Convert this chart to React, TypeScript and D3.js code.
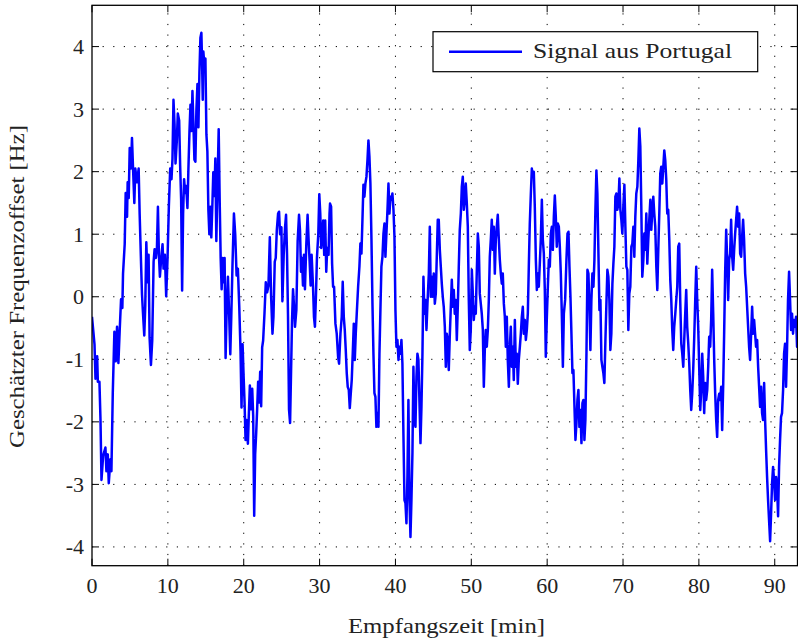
import React from 'react';
import * as d3 from 'd3';

const xTicks = [0, 10, 20, 30, 40, 50, 60, 70, 80, 90];
const yTicks = [-4, -3, -2, -1, 0, 1, 2, 3, 4];
const xDomain: [number, number] = [0, 93];
const yDomain: [number, number] = [-4.3, 4.66];
const seriesName = 'Signal aus Portugal';
const xLabel = 'Empfangszeit [min]';
const yLabel = 'Geschätzter Frequenzoffset [Hz]';

// [time in min, estimated frequency offset in Hz]
const signalPart1: [number, number][] = [
  [0, -0.32], [0.33, -0.76], [0.46, -1.31], [0.68, -0.95], [0.77, -1.36], [0.98, -1.36], [1.12, -1.97], [1.25, -2.93],
  [1.47, -2.54], [1.77, -2.41], [1.9, -2.79], [2.08, -2.52], [2.21, -2.98], [2.43, -2.6], [2.56, -2.79], [2.74, -1.53],
  [2.95, -0.56], [3.13, -1.03], [3.3, -0.48], [3.48, -1.06], [3.65, -0.54], [3.83, -0.04], [4.0, -0.18], [4.09, 0.37],
  [4.31, 0.84], [4.44, 1.66], [4.62, 1.28], [4.7, 1.83], [4.84, 1.58], [4.97, 2.38], [5.14, 2.05], [5.27, 2.54],
  [5.41, 2.05], [5.58, 1.5], [5.71, 2.05], [5.93, 1.83], [6.15, 2.05], [6.28, 1.33], [6.46, 0.56], [6.59, 0.04],
  [6.72, -0.26], [6.89, -0.62], [7.02, -0.15], [7.16, 0.87], [7.33, 0.23], [7.46, 0.67], [7.59, -0.65], [7.77, -1.09],
  [7.94, -0.7], [8.12, 0.56], [8.25, 0.76], [8.42, 0.62], [8.56, 0.78], [8.69, 1.44], [8.82, 0.67], [8.95, 0.32],
  [9.13, 0.62], [9.3, 0.84], [9.43, 0.45], [9.61, 0.67], [9.78, 0.01], [9.96, 0.62], [10.13, 1.44], [10.31, 2.05],
  [10.48, 1.88], [10.61, 2.21], [10.74, 3.15], [10.88, 2.76], [11.01, 2.13], [11.18, 2.49], [11.31, 2.93], [11.49, 2.82],
  [11.62, 2.1], [11.75, 1.55], [11.88, 0.1], [12.01, 1.33], [12.14, 1.88], [12.28, 1.66], [12.41, 1.77], [12.58, 1.42],
  [12.71, 2.05], [12.85, 2.65], [12.98, 3.07], [13.11, 2.65], [13.24, 3.29], [13.37, 2.76], [13.5, 2.19], [13.63, 2.16],
  [13.76, 2.98], [13.9, 3.4], [14.03, 2.71], [14.16, 3.59], [14.29, 4.14], [14.42, 4.22], [14.51, 3.75], [14.6, 3.15],
  [14.68, 3.92], [14.81, 3.7], [14.95, 3.81], [15.08, 2.6], [15.21, 2.32], [15.34, 1.39], [15.47, 1.0], [15.6, 1.44],
  [15.73, 0.95], [15.86, 1.44], [15.99, 1.99], [16.13, 1.61], [16.26, 2.21], [16.39, 0.89], [16.52, 1.66], [16.7, 2.68],
  [16.83, 1.55], [16.96, 0.62], [17.09, 0.12], [17.22, 0.62], [17.35, 0.23], [17.48, 0.62], [17.61, -0.98], [17.75, -0.21],
  [17.92, 0.32], [18.1, -0.37], [18.23, -0.92], [18.36, -0.32], [18.53, 0.56], [18.71, 1.33], [18.88, 1.0], [19.06, 0.34],
  [19.23, 0.45], [19.41, -0.15], [19.58, -0.87], [19.71, -1.77], [19.85, -0.76], [19.98, -1.25], [20.11, -1.69], [20.24, -2.29],
  [20.37, -1.97], [20.55, -2.35], [20.68, -1.86], [20.81, -1.42], [20.94, -1.8], [21.12, -1.47], [21.25, -1.91], [21.38, -3.5],
  [21.51, -2.52], [21.64, -2.19], [21.77, -1.8], [21.9, -1.36], [22.04, -1.69], [22.17, -1.2], [22.3, -1.75], [22.43, -0.81],
  [22.56, -0.7], [22.74, -0.26], [22.91, 0.23], [23.09, 0.07], [23.26, 0.18], [23.44, 0.95], [23.61, 0.01], [23.79, -0.59],
  [23.92, -0.32], [24.09, 0.56], [24.22, 0.62], [24.36, 1.06], [24.53, 1.33], [24.66, 1.36], [24.79, 1.0], [24.97, 1.11],
  [25.1, -0.07], [25.27, 0.67], [25.45, 1.11], [25.58, 1.31], [25.71, 0.67], [25.84, -0.32], [25.97, -1.8], [26.11, -2.02],
  [26.24, -1.2], [26.37, -0.37], [26.5, 0.12], [26.63, -0.15], [26.76, -0.48], [26.94, -0.21], [27.11, 0.89], [27.29, 1.31],
  [27.42, 1.06], [27.55, 0.4], [27.68, 0.62], [27.81, 0.18], [27.94, 0.67], [28.07, 0.12], [28.25, 0.84], [28.42, 1.31],
  [28.56, 0.89], [28.69, 0.56], [28.82, 0.18], [28.95, 0.67], [29.13, 0.18], [29.26, -0.32], [29.39, -0.48], [29.52, 0.01],
  [29.65, 0.62], [29.83, 1.0], [29.96, 1.64], [30.09, 1.33], [30.22, 0.78], [30.35, 1.0], [30.48, 1.22], [30.61, 0.67],
  [30.74, 1.22], [30.88, 0.4], [31.01, 0.78], [31.18, 0.67], [31.31, 1.33],
];

const signalPart2: [number, number][] = [
  [31.38, 1.49], [31.52, 1.44], [31.65, 0.53], [31.78, 0.16], [31.91, 0.16], [32.09, -0.43], [32.26, -0.59], [32.44, -0.96],
  [32.57, -1.07], [32.75, -0.59], [32.92, -0.32], [33.05, 0.24], [33.19, -0.32], [33.32, -0.53], [33.45, -0.85], [33.58, -1.22],
  [33.71, -1.44], [33.85, -1.49], [33.98, -1.78], [34.11, -1.55], [34.24, -1.33], [34.37, -0.91], [34.51, -0.43], [34.64, -1.01],
  [34.77, -0.59], [34.9, -0.27], [35.08, 0.16], [35.25, 0.48], [35.38, 0.85], [35.52, 0.69], [35.65, 1.23], [35.78, 1.79],
  [35.91, 1.6], [36.04, 1.81], [36.18, 1.92], [36.31, 2.18], [36.44, 2.5], [36.57, 2.24], [36.7, 1.81], [36.84, 0.91],
  [36.97, -0.11], [37.1, -0.91], [37.23, -1.54], [37.36, -1.6], [37.49, -2.08], [37.63, -1.86], [37.76, -2.08], [37.89, -0.91],
  [38.02, -0.21], [38.15, 0.48], [38.29, 0.64], [38.42, 1.01], [38.55, 1.17], [38.68, 0.64], [38.81, 1.01], [38.95, 1.39],
  [39.08, 1.81], [39.21, 1.33], [39.34, 1.6], [39.47, 1.55], [39.6, 1.65], [39.74, 1.39], [39.87, 0.96], [40.0, -0.21],
  [40.13, -0.8], [40.26, -0.69], [40.4, -1.01], [40.53, -0.8], [40.66, -0.91], [40.79, -0.69], [40.92, -1.07], [41.05, -2.18],
  [41.19, -3.25], [41.32, -3.3], [41.45, -3.62], [41.58, -2.88], [41.71, -1.65], [41.85, -3.25], [41.98, -3.84], [42.11, -3.25],
  [42.24, -2.5], [42.37, -1.12], [42.51, -1.97], [42.64, -2.08], [42.77, -1.28], [42.9, -0.91], [43.03, -1.01], [43.16, -1.65],
  [43.3, -2.34], [43.43, -1.76], [43.56, -0.91], [43.69, 0.32], [43.82, -0.27], [43.96, -0.05], [44.09, -0.53], [44.22, -0.11],
  [44.4, 0.37], [44.53, 1.12], [44.66, 0.0], [44.79, 0.32], [44.92, 0.0], [45.05, 0.37], [45.19, -0.11], [45.32, 0.05],
  [45.45, 0.64], [45.58, 1.23], [45.71, 1.23], [45.85, 0.75], [45.98, 0.48], [46.11, 0.21], [46.24, 0.0], [46.37, -0.16],
  [46.51, -0.48], [46.64, -1.12], [46.77, -0.59], [46.9, -0.69], [47.03, -1.17], [47.16, -0.64], [47.3, -0.16], [47.43, 0.27],
  [47.56, -0.16], [47.69, 0.11], [47.82, -0.27], [47.96, -0.05], [48.09, -0.69], [48.22, -0.16], [48.35, 0.48], [48.48, 1.07],
  [48.62, 1.33], [48.75, 1.76], [48.88, 1.92], [49.01, 1.39], [49.14, 1.55], [49.27, 1.81], [49.41, 1.49], [49.54, 1.12],
  [49.67, -0.05], [49.8, -0.85], [49.93, -0.53], [50.07, 0.43], [50.2, 0.05], [50.33, -0.37], [50.46, -0.16], [50.59, -0.27],
  [50.73, 0.43], [50.86, 1.01], [50.99, 0.8], [51.12, 0.05], [51.25, -0.11], [51.38, -0.27], [51.52, -0.53], [51.65, -1.44],
  [51.78, -0.85], [51.91, -0.53], [52.04, -0.8], [52.18, -0.53], [52.31, -0.05], [52.44, 0.64], [52.57, 0.91], [52.7, 1.23],
  [52.84, 0.75], [52.97, 1.12], [53.1, 0.37], [53.23, 0.91], [53.36, 1.12], [53.49, 1.31], [53.63, 0.91], [53.76, 0.59],
  [53.89, 0.37], [54.02, 0.21], [54.15, 0.37], [54.29, -0.11], [54.42, -0.32], [54.55, -0.8], [54.68, -0.32], [54.81, -1.01],
  [54.95, -1.44], [55.08, -0.8], [55.21, -0.48], [55.34, -1.12], [55.47, -0.8], [55.6, -1.33], [55.74, -0.37], [55.87, -1.12],
  [56.0, -0.91], [56.13, -1.39], [56.26, -1.01], [56.4, -0.8], [56.53, -0.59], [56.66, -0.32], [56.79, -0.16], [56.92, -0.59],
  [57.05, -0.37], [57.19, -0.69], [57.32, -0.53], [57.45, -0.27], [57.58, 0.48], [57.71, 1.17], [57.85, 1.65], [57.98, 2.05],
  [58.11, 1.92], [58.24, 2.0], [58.37, 1.44], [58.51, 0.59], [58.64, 0.11], [58.77, 0.37], [58.9, 0.16], [59.03, 0.53],
  [59.16, 0.91], [59.3, 1.55], [59.43, 0.91], [59.56, 0.69], [59.69, 0.11], [59.82, -0.96], [59.96, -0.32], [60.09, 0.16],
  [60.22, 0.59], [60.35, 0.48], [60.48, 1.01], [60.62, 1.12], [60.75, 0.75], [60.88, 1.28], [61.01, 1.62], [61.14, 1.28],
  [61.27, 0.8], [61.41, 1.17], [61.54, 1.12], [61.67, 0.8], [61.8, 0.37], [61.93, -0.27], [62.07, -1.12], [62.2, -0.27],
];

const signalPart3: [number, number][] = [
  [62.37, -0.05], [62.54, 0.59], [62.68, 1.01], [62.81, 1.04], [62.94, 0.48], [63.07, 0.0], [63.2, -0.59], [63.33, -1.22],
  [63.46, -1.17], [63.6, -1.76], [63.73, -2.29], [63.86, -2.02], [63.99, -1.65], [64.12, -1.49], [64.25, -2.08], [64.39, -1.81],
  [64.52, -2.34], [64.65, -1.7], [64.78, -1.65], [64.91, -2.29], [65.04, -1.97], [65.18, -0.91], [65.31, 0.43], [65.44, 0.37],
  [65.57, -0.16], [65.7, -0.85], [65.83, -0.05], [65.96, 0.37], [66.1, 0.16], [66.23, 0.59], [66.36, 1.39], [66.49, 2.02],
  [66.62, 1.65], [66.75, 0.75], [66.89, -0.21], [67.02, -0.05], [67.15, -1.01], [67.28, -1.12], [67.41, -1.22], [67.54, -1.38],
  [67.68, -0.69], [67.81, -0.11], [67.94, 0.43], [68.07, 0.32], [68.2, -0.05], [68.33, -0.85], [68.46, -0.59], [68.6, 0.21],
  [68.73, 0.53], [68.86, 0.8], [68.99, 1.6], [69.12, 1.65], [69.25, 1.39], [69.39, 1.49], [69.52, 1.89], [69.65, 1.39],
  [69.78, 1.23], [69.91, 1.01], [70.04, 1.44], [70.18, 1.79], [70.31, 1.12], [70.44, 0.48], [70.57, 0.43], [70.7, -0.53],
  [70.83, 0.05], [70.96, 0.16], [71.1, 0.8], [71.23, 0.85], [71.36, 1.12], [71.49, 0.64], [71.62, 1.28], [71.75, 1.65],
  [71.89, 1.76], [72.02, 2.18], [72.15, 2.69], [72.28, 2.4], [72.41, 1.44], [72.54, 0.32], [72.68, 0.59], [72.81, 1.01],
  [72.94, 0.75], [73.07, 1.33], [73.2, 0.53], [73.33, 0.91], [73.46, 1.23], [73.6, 1.55], [73.73, 1.07], [73.86, 1.39],
  [73.99, 1.6], [74.12, 1.33], [74.25, 1.12], [74.39, 0.48], [74.52, 0.11], [74.65, 0.75], [74.78, 1.33], [74.91, 1.97],
  [75.04, 2.08], [75.18, 1.81], [75.31, 2.08], [75.44, 2.34], [75.57, 2.18], [75.7, 1.87], [75.83, 1.33], [75.96, 1.39],
  [76.1, 0.91], [76.23, 0.27], [76.36, -0.05], [76.49, -0.53], [76.62, -0.85], [76.75, -0.48], [76.89, -0.27], [77.02, -0.05],
  [77.15, 0.16], [77.28, 0.8], [77.41, 0.85], [77.54, -0.05], [77.68, -0.75], [77.81, -0.91], [77.94, -1.12], [78.07, -0.69],
  [78.2, -0.27], [78.33, 0.11], [78.46, -0.48], [78.6, -0.75], [78.73, -1.07], [78.86, -1.49], [78.99, -1.81], [79.12, -1.55],
  [79.25, -1.17], [79.39, -0.64], [79.52, -0.05], [79.65, 0.48], [79.78, -0.05], [79.91, -0.48], [80.04, -1.12], [80.18, -1.81],
  [80.31, -1.49], [80.44, -0.91], [80.57, -1.28], [80.7, -1.86], [80.83, -1.38], [80.96, -1.65], [81.1, -1.49], [81.23, -1.12],
  [81.36, -0.64], [81.49, -0.8], [81.62, -0.37], [81.75, 0.43], [81.89, -0.27], [82.02, -1.01], [82.15, -1.55], [82.28, -1.97],
  [82.41, -2.24], [82.54, -1.65], [82.68, -1.55], [82.81, -1.65], [82.94, -1.44], [83.07, -2.13], [83.2, -1.44], [83.33, -0.59],
  [83.46, 0.37], [83.6, 1.07], [83.73, 0.59], [83.86, -0.05], [83.99, 0.59], [84.12, 0.69], [84.25, 1.23], [84.39, 0.64],
  [84.52, 0.43], [84.65, 0.75], [84.78, 1.01], [84.91, 1.23], [85.04, 1.44], [85.18, 1.12], [85.31, 1.33], [85.44, 0.69],
  [85.57, 0.64], [85.7, 0.96], [85.83, 1.23], [85.96, 0.91], [86.1, 0.37], [86.23, 0.16], [86.36, -0.16], [86.49, -0.48],
  [86.62, -0.8], [86.75, -1.01], [86.89, -0.59], [87.02, -0.16], [87.15, -0.59], [87.28, -0.37], [87.41, -0.59], [87.54, -0.8],
  [87.68, -0.69], [87.81, -1.12], [87.94, -1.44], [88.07, -1.76], [88.2, -1.44], [88.33, -1.86], [88.46, -1.97], [88.6, -1.38],
  [88.73, -1.97], [88.86, -2.45], [88.99, -2.88], [89.12, -3.25], [89.25, -3.57], [89.39, -3.91], [89.52, -3.46], [89.65, -2.98],
  [89.78, -2.72], [89.91, -2.93], [90.04, -3.25], [90.18, -2.88], [90.31, -3.04], [90.44, -3.51], [90.57, -2.72], [90.7, -2.29],
  [90.83, -1.92], [90.96, -1.86], [91.1, -1.49], [91.23, -0.91], [91.36, -0.75], [91.49, -1.44], [91.62, -0.85], [91.75, -0.05],
  [91.89, 0.4], [92.02, -0.05], [92.15, -0.53], [92.28, -0.27], [92.41, -0.59], [92.54, -0.37], [92.68, -0.48], [92.81, -0.32],
  [92.94, -0.8], [93.07, -0.37],
];

export default function App() {
  const W = 798;
  const H = 641;
  const left = 92;
  const right = 797.5;
  const top = 5.3;
  const bottom = 565.7;
  const x = d3.scaleLinear().domain(xDomain).range([left, right]);
  const y = d3.scaleLinear().domain(yDomain).range([bottom, top]);
  const data = [...signalPart1, ...signalPart2, ...signalPart3];
  const line = d3
    .line<[number, number]>()
    .x((d) => x(d[0]))
    .y((d) => y(d[1]));
  const font = '"Liberation Serif", "Times New Roman", serif';
  const tickLen = 7;
  const gridDash = '1.2,9.4';

  return (
    <svg
      width={W}
      height={H}
      style={{ position: 'absolute', left: 0, top: 0, background: '#fff' }}
      fontFamily={font}
    >
      <rect x={0} y={0} width={W} height={H} fill="#fff" />
      <defs>
        <clipPath id="plotClip">
          <rect x={left} y={top} width={right - left} height={bottom - top} />
        </clipPath>
      </defs>
      {/* grid */}
      <g stroke="#000" strokeWidth={1} strokeDasharray={gridDash} fill="none">
        {xTicks
          .filter((t) => x(t) > left + 1)
          .map((t) => (
            <line key={'gx' + t} x1={x(t)} x2={x(t)} y1={bottom} y2={top} />
          ))}
        {yTicks.map((t) => (
          <line key={'gy' + t} x1={left} x2={right} y1={y(t)} y2={y(t)} />
        ))}
      </g>
      {/* ticks */}
      <g stroke="#000" strokeWidth={1}>
        {xTicks.map((t) => (
          <g key={'tx' + t}>
            <line x1={x(t)} x2={x(t)} y1={bottom} y2={bottom - tickLen} />
            <line x1={x(t)} x2={x(t)} y1={top} y2={top + tickLen} />
          </g>
        ))}
        {yTicks.map((t) => (
          <g key={'ty' + t}>
            <line x1={left} x2={left + tickLen} y1={y(t)} y2={y(t)} />
            <line x1={right} x2={right - tickLen} y1={y(t)} y2={y(t)} />
          </g>
        ))}
      </g>
      {/* data */}
      <path
        d={line(data) || ''}
        fill="none"
        stroke="#0000ff"
        strokeWidth={2.5}
        strokeLinejoin="round"
        clipPath="url(#plotClip)"
      />
      {/* box */}
      <rect x={left} y={top} width={right - left} height={bottom - top} fill="none" stroke="#000" strokeWidth={1.3} />
      {/* tick labels */}
      <g fontSize={22} fill="#222">
        {xTicks.map((t) => (
          <text key={'lx' + t} x={x(t)} y={592.5} textAnchor="middle">
            {t}
          </text>
        ))}
        {yTicks.map((t) => (
          <text key={'ly' + t} x={84} y={y(t) + 7.5} textAnchor="end">
            {t}
          </text>
        ))}
      </g>
      {/* axis labels */}
      <text x={446.5} y={633} textAnchor="middle" fontSize={22} fill="#222" textLength={197} lengthAdjust="spacingAndGlyphs">
        {xLabel}
      </text>
      <text
        transform={`translate(24,286.5) rotate(-90)`}
        textAnchor="middle"
        fontSize={22}
        fill="#222"
        textLength={323}
        lengthAdjust="spacingAndGlyphs"
      >
        {yLabel}
      </text>
      {/* legend */}
      <g>
        <rect x={433} y={31.7} width={324.7} height={40} fill="#fff" stroke="#000" strokeWidth={1.2} />
        <line x1={449} x2={522} y1={51.7} y2={51.7} stroke="#0000ff" strokeWidth={2.5} />
        <text x={533} y={58.3} fontSize={22} fill="#222" textLength={199} lengthAdjust="spacingAndGlyphs">
          {seriesName}
        </text>
      </g>
    </svg>
  );
}
